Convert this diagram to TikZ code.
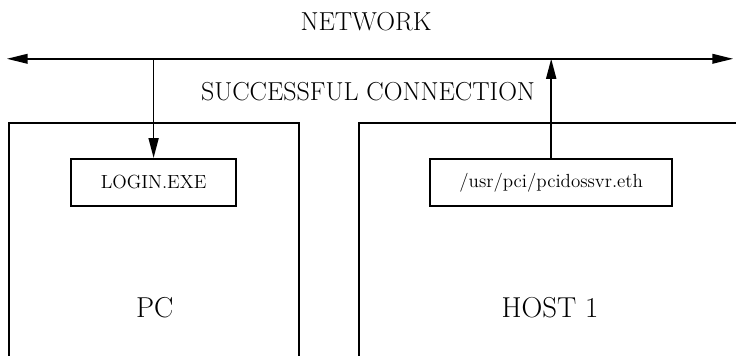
\documentclass[tikz,border=0pt]{standalone}
\usepackage{fontspec}
\usepackage{tikz}
\usetikzlibrary{positioning}
\usetikzlibrary{arrows.meta}
\tikzset{
    hostbox/.style = {rectangle, line width=1.25pt, draw=black, inner sep=0, anchor=north west},
    progbox/.style = {rectangle, line width=1.25pt, draw=black, align=center, minimum height=1.175cm, font=\fontsize{13.5}{15}\selectfont},
    bigtext/.style = {font=\fontsize{20.5}{23}\selectfont, text=black},
    midtext/.style = {font=\fontsize{18.5}{21}\selectfont, text=black},
    edgenet/.style = {{Triangle[length=0.52cm,width=0.24cm]}-{Triangle[length=0.52cm,width=0.24cm]}, line width=1.25pt, black},
    edgea/.style = {-{Triangle[length=0.5cm,width=0.25cm]}, line width=1.25pt, black}
}

\begin{document}
\begin{tikzpicture}
\useasboundingbox (0,0) rectangle (18.4,8.9);
\clip (0,0) rectangle (18.4,8.9);

% machines (cut off by the page edge)
\node[hostbox, minimum width=7.25cm, minimum height=7cm] at ( 0.20,  5.85) (pc) {};
\node[hostbox, minimum width=11cm, minimum height=7cm] at ( 8.95,  5.85) (host) {};
\node[bigtext] at ( 3.87,  1.20) (pclbl) {PC};
\node[bigtext] at (13.75,  1.20) (hostlbl) {HOST 1};

% programs
\node[progbox, minimum width=4.125cm] at ( 3.84,  4.34) (login) {LOGIN.EXE};
\node[progbox, minimum width=6.05cm] at (13.78,  4.34) (svr) {/usr/pci/pcidossvr.eth};

% network
\coordinate (netL) at ( 0.17,  7.43);
\coordinate (netR) at (18.33,  7.43);
\coordinate (netA) at (login.north |- netL);
\coordinate (netB) at (svr.north |- netL);
\node[midtext] at ( 9.15,  8.37) (net) {NETWORK};
\node[midtext] at ( 9.20,  6.60) (conn) {SUCCESSFUL CONNECTION};

\draw[edgenet] (netL) -- (netR);
\draw[edgea] (netA) -- (login.north);
\draw[edgea] (svr.north) -- (netB);

\end{tikzpicture}
\end{document}
